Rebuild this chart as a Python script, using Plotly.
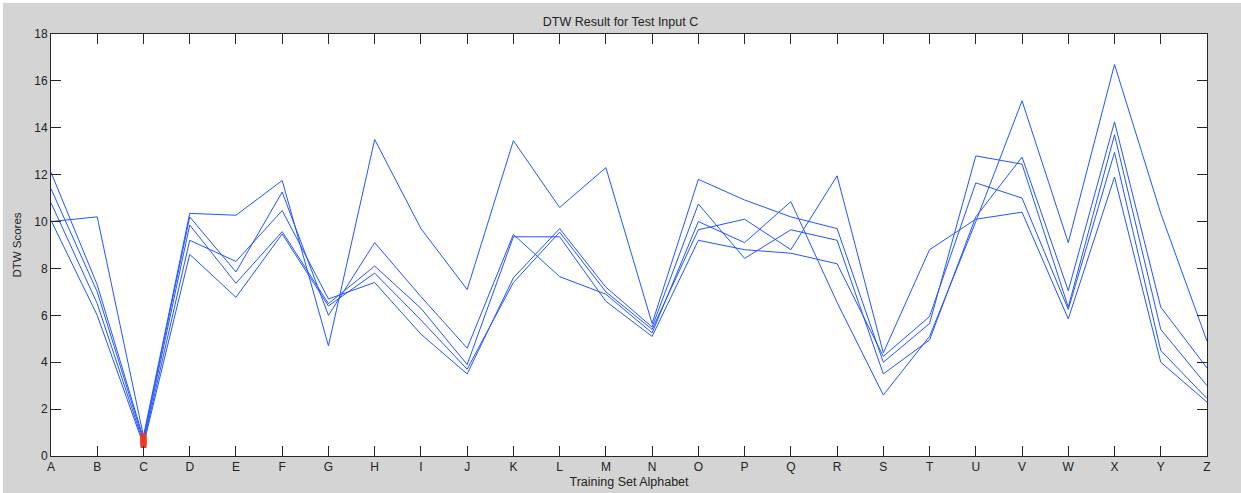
import plotly.graph_objects as go

letters = ["A", "B", "C", "D", "E", "F", "G", "H", "I", "J", "K", "L", "M",
           "N", "O", "P", "Q", "R", "S", "T", "U", "V", "W", "X", "Y", "Z"]

s1 = [10.0, 10.2, 0.85, 10.35, 10.27, 11.75, 4.7, 13.5, 9.7, 7.1, 13.45, 10.6, 12.3,
      5.65, 11.8, 10.92, 10.2, 9.7, 4.0, 5.65, 12.8, 12.45, 6.35, 13.7, 5.4, 3.0]
s2 = [12.1, 7.3, 0.75, 10.2, 7.85, 11.26, 6.0, 9.1, 6.8, 4.6, 9.45, 7.65, 6.9,
      5.25, 10.0, 9.1, 10.85, 6.55, 2.6, 5.1, 10.0, 15.15, 9.1, 16.7, 10.35, 4.9]
s3 = [11.4, 7.0, 0.65, 9.85, 7.37, 9.57, 6.5, 8.1, 6.3, 3.9, 9.35, 9.35, 6.6,
      5.1, 9.2, 8.8, 8.65, 8.2, 4.25, 5.95, 11.65, 11.0, 6.25, 12.95, 4.5, 2.45]
s4 = [10.8, 6.5, 0.55, 9.2, 8.3, 10.47, 6.7, 7.4, 5.2, 3.5, 7.6, 9.7, 7.2,
      5.5, 10.75, 8.43, 9.65, 9.2, 3.5, 4.95, 10.2, 12.75, 7.05, 14.25, 6.35, 3.75]
s5 = [10.05, 6.0, 0.47, 8.6, 6.77, 9.47, 6.4, 7.8, 5.8, 3.7, 7.4, 9.55, 7.0,
      5.4, 9.65, 10.1, 8.8, 11.95, 4.4, 8.8, 10.1, 10.4, 5.85, 11.9, 4.0, 2.3]

series = [s1, s2, s3, s4, s5]
best_letter = "C"
y_ticks = [0, 2, 4, 6, 8, 10, 12, 14, 16, 18]

BLUE = "#2255ff"
RED = "#ec3a24"
GREY = "#d4d4d4"
AX = "#262626"
TXT = "#222222"
FONT = "Liberation Sans, Arial, sans-serif"

fig = go.Figure()
for s in series:
    fig.add_trace(go.Scatter(x=letters, y=s, mode="lines",
                             line=dict(color=BLUE, width=1), showlegend=False,
                             hoverinfo="skip"))

bi = letters.index(best_letter)
fig.add_trace(go.Scatter(x=[best_letter] * len(series), y=[s[bi] for s in series],
                         mode="markers",
                         marker=dict(symbol="square", size=6, color=RED,
                                     line=dict(width=0)),
                         showlegend=False, hoverinfo="skip"))

W, H = 1241, 493
L, R, T, B = 51, 34, 34, 37
pw, ph = W - L - R, H - T - B

fig.update_layout(
    width=W, height=H,
    margin=dict(l=L, r=R, t=T, b=B, pad=0, autoexpand=False),
    paper_bgcolor=GREY, plot_bgcolor="white",
    font=dict(family=FONT, size=12, color=TXT),
    title=dict(text="DTW Result for Test Input C", x=0.5, xref="container",
               xanchor="center", y=1 - 22 / H, yref="container", yanchor="middle",
               font=dict(size=12.5, family=FONT, color=TXT)),
    xaxis=dict(type="category", range=[0, len(letters) - 1], automargin=False,
               showline=True, linecolor=AX, linewidth=1, mirror="ticks",
               ticks="inside", ticklen=10, tickcolor=AX, tickwidth=1,
               showgrid=False, zeroline=False,
               tickfont=dict(size=12, family=FONT, color=TXT),
               title=dict(text="Training Set Alphabet", standoff=3,
                          font=dict(size=12.5, family=FONT, color=TXT))),
    yaxis=dict(range=[0, 18], tickvals=y_ticks, automargin=False,
               showline=True, linecolor=AX, linewidth=1, mirror="ticks",
               ticks="inside", ticklen=10, tickcolor=AX, tickwidth=1,
               showgrid=False, zeroline=False,
               tickfont=dict(size=12, family=FONT, color=TXT),
               title=dict(text="DTW Scores", standoff=10,
                          font=dict(size=11.5, family=FONT, color=TXT))),
    shapes=[
        dict(type="rect", xref="paper", yref="paper",
             x0=-L / pw - 0.01, x1=(W - L) / pw + 0.01,
             y0=(H - T - 6) / ph, y1=(H - T) / ph + 0.02,
             fillcolor="white", line=dict(width=0), layer="above"),
        dict(type="rect", xref="paper", yref="paper",
             x0=-L / pw - 0.01, x1=(3 - L) / pw,
             y0=-B / ph - 0.02, y1=(H - T) / ph + 0.02,
             fillcolor="white", line=dict(width=0), layer="above"),
    ],
)

fig.write_html("out.html", config={"displayModeBar": False},
               post_script="document.body.style.margin='0';document.body.style.padding='0';")
